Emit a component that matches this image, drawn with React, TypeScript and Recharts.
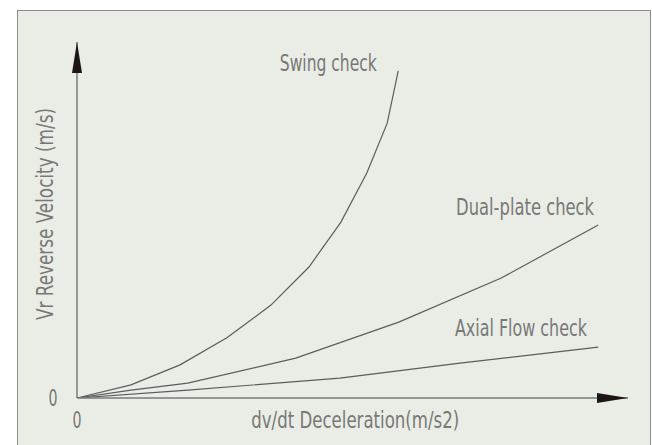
import React from 'react';
import {
  LineChart,
  Line,
  XAxis,
  YAxis,
  ReferenceDot,
  Label,
} from 'recharts';

// Curves (arbitrary units, 0..100 on both axes)
const swingCheck = [
  { x: 0, y: 0 },
  { x: 9.8, y: 3.7 },
  { x: 18.7, y: 9.3 },
  { x: 27.2, y: 16.9 },
  { x: 35.2, y: 26.1 },
  { x: 42.1, y: 36.8 },
  { x: 47.9, y: 49.4 },
  { x: 52.6, y: 63.2 },
  { x: 56.3, y: 77.2 },
  { x: 58.3, y: 91.9 },
];

const dualPlateCheck = [
  { x: 0, y: 0 },
  { x: 9.8, y: 2.2 },
  { x: 20.1, y: 4.2 },
  { x: 39.7, y: 11.2 },
  { x: 58.4, y: 21.3 },
  { x: 77.0, y: 33.7 },
  { x: 94.6, y: 48.6 },
];

const axialFlowCheck = [
  { x: 0, y: 0 },
  { x: 20.1, y: 2.2 },
  { x: 47.7, y: 5.6 },
  { x: 69.5, y: 9.8 },
  { x: 94.6, y: 14.3 },
];

// where each curve name sits (left edge / baseline, in data units)
const curveLabels = [
  { name: 'Swing check', x: 36.8, y: 91.9, width: 97 },
  { name: 'Dual-plate check', x: 68.8, y: 51.4, width: 138 },
  { name: 'Axial Flow check', x: 68.6, y: 17.4, width: 132 },
];

const xTicks = [0];
const yTicks = [0];

const FONT = "'Liberation Sans Narrow', 'DejaVu Sans Condensed', 'Liberation Sans', sans-serif";
const TEXT_COLOR = '#787878';
const LINE_COLOR = '#5c5c5c';
const AXIS_COLOR = '#7a7a7a';
const ARROW_COLOR = '#1d1515';

const CadText = ({ x, y, text, width, anchor = 'start', rotate = false }: any) => (
  <text
    x={x}
    y={y}
    fill={TEXT_COLOR}
    fontFamily={FONT}
    fontSize={23}
    textAnchor={anchor}
    textLength={width}
    lengthAdjust="spacingAndGlyphs"
    transform={rotate ? `rotate(-90 ${x} ${y})` : undefined}
  >
    {text}
  </text>
);

const XTick = ({ x, y, payload }: any) => (
  <CadText x={x} y={y + 22} text={String(payload.value)} width={9} anchor="middle" />
);

const YTick = ({ x, y, payload }: any) => (
  <CadText x={x - 16} y={y + 8} text={String(payload.value)} width={9} anchor="middle" />
);

const XTitle = ({ viewBox }: any) => (
  <CadText
    x={viewBox.x + viewBox.width * 0.505}
    y={viewBox.y + 30}
    text="dv/dt Deceleration(m/s2)"
    width={208}
    anchor="middle"
  />
);

const YTitle = ({ viewBox }: any) => (
  <CadText
    x={viewBox.x + viewBox.width - 24}
    y={viewBox.y + viewBox.height / 2 - 6}
    text="Vr Reverse Velocity (m/s)"
    width={212}
    anchor="middle"
    rotate
  />
);

export default function App() {
  return (
    <div style={{ position: 'absolute', left: 0, top: 0, width: 652, height: 445, background: '#fff', overflow: 'hidden' }}>
      <div
        style={{
          position: 'absolute',
          left: 17,
          top: 10,
          width: 632,
          height: 450,
          background: '#eaede5',
          border: '1px solid #8c8c8c',
        }}
      />
      <div style={{ position: 'absolute', left: 0, top: 0 }}>
        <LineChart width={652} height={445} margin={{ top: 42, right: 24, bottom: 46, left: 76 }}>
          <defs>
            <marker id="arrowHead" markerWidth={31} markerHeight={10} refX={31} refY={5} orient="auto-start-reverse" markerUnits="userSpaceOnUse">
              <path d="M0,0 L31,5 L0,10 Z" fill={ARROW_COLOR} />
            </marker>
          </defs>
          <XAxis
            type="number"
            dataKey="x"
            domain={[0, 100]}
            allowDataOverflow
            ticks={xTicks}
            tick={<XTick />}
            tickLine={false}
            height={1}
            axisLine={{ stroke: AXIS_COLOR, strokeWidth: 1.5, markerEnd: 'url(#arrowHead)' }}
          >
            <Label content={<XTitle />} />
          </XAxis>
          <YAxis
            type="number"
            dataKey="y"
            domain={[0, 100]}
            allowDataOverflow
            ticks={yTicks}
            tick={<YTick />}
            tickLine={false}
            width={1}
            axisLine={{ stroke: AXIS_COLOR, strokeWidth: 1.5, markerStart: 'url(#arrowHead)' }}
          >
            <Label content={<YTitle />} />
          </YAxis>
          <Line data={swingCheck} dataKey="y" type="linear" stroke={LINE_COLOR} strokeWidth={1.2} dot={false} isAnimationActive={false} />
          <Line data={dualPlateCheck} dataKey="y" type="linear" stroke={LINE_COLOR} strokeWidth={1.2} dot={false} isAnimationActive={false} />
          <Line data={axialFlowCheck} dataKey="y" type="linear" stroke={LINE_COLOR} strokeWidth={1.2} dot={false} isAnimationActive={false} />
          {curveLabels.map((c) => (
            <ReferenceDot
              key={c.name}
              x={c.x}
              y={c.y}
              r={0}
              fill="none"
              stroke="none"
              ifOverflow="visible"
              label={{
                content: ({ viewBox }: any) => (
                  <CadText x={viewBox.x + viewBox.width / 2} y={viewBox.y + viewBox.height / 2} text={c.name} width={c.width} />
                ),
              }}
            />
          ))}
        </LineChart>
      </div>
    </div>
  );
}
